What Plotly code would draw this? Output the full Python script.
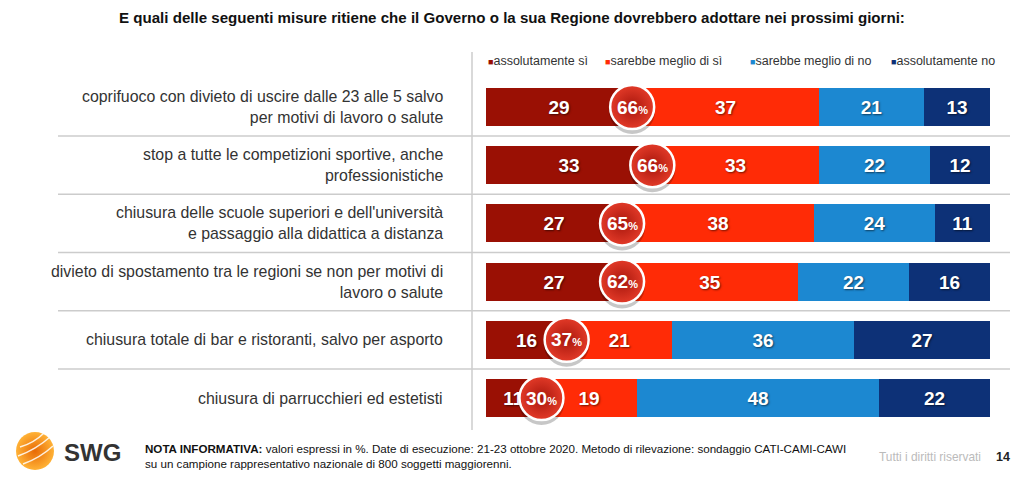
import plotly.graph_objects as go

W, H = 1024, 479

title = "E quali delle seguenti misure ritiene che il Governo o la sua Regione dovrebbero adottare nei prossimi giorni:"
categories = [
    "coprifuoco con divieto di uscire dalle 23 alle 5 salvo<br>per motivi di lavoro o salute",
    "stop a tutte le competizioni sportive, anche<br>professionistiche",
    "chiusura delle scuole superiori e dell'università<br>e passaggio alla didattica a distanza",
    "divieto di spostamento tra le regioni se non per motivi di<br>lavoro o salute",
    "chiusura totale di bar e ristoranti, salvo per asporto",
    "chiusura di parrucchieri ed estetisti",
]
series_names = ["assolutamente sì", "sarebbe meglio di sì", "sarebbe meglio di no", "assolutamente no"]
assolutamente_si = [29, 33, 27, 27, 16, 11]
meglio_si = [37, 33, 38, 35, 21, 19]
meglio_no = [21, 22, 24, 22, 36, 48]
assolutamente_no = [13, 12, 11, 16, 27, 22]
totale_si = [66, 66, 65, 62, 37, 30]
colors = ["#9A1004", "#FF2B06", "#1C88D1", "#0D3177"]

series_values = [assolutamente_si, meglio_si, meglio_no, assolutamente_no]
rows = list(range(len(categories)))

FONT = "Liberation Sans, Arial"

def px(x):
    return x / W

def py(y):
    return 1 - y / H

row_top_px, row_bot_px = 107, 398
step = (row_bot_px - row_top_px) / (len(rows) - 1)
y_top = 0 - row_top_px / step
y_bot = (len(rows) - 1) + (H - row_bot_px) / step

fig = go.Figure()

for name, vals, col in zip(series_names, series_values, colors):
    fig.add_trace(go.Bar(
        y=rows, x=vals, orientation="h", name=name,
        marker=dict(color=col, line=dict(width=0)),
        width=38 / step,
        text=vals, texttemplate="%{x}", textposition="inside",
        insidetextanchor="middle", textangle=0,
        textfont=dict(family=FONT, size=19, color="white",
                      weight="bold", shadow="1px 1px 2px rgba(0,0,0,0.55)"),
        showlegend=False, hoverinfo="skip",
    ))

# circle shadow
fig.add_trace(go.Scatter(
    x=assolutamente_si, y=[r + 4 / step for r in rows], mode="markers",
    marker=dict(size=46, color="rgba(0,0,0,0.22)", line=dict(width=0)),
    showlegend=False, hoverinfo="skip",
))
# circles
fig.add_trace(go.Scatter(
    x=assolutamente_si, y=rows, mode="markers",
    marker=dict(size=44, color="#E33A28",
                gradient=dict(type="radial", color="#A8170D"),
                line=dict(color="white", width=2.5)),
    showlegend=False, hoverinfo="skip",
))

annotations = []
for r, xv, tv in zip(rows, assolutamente_si, totale_si):
    annotations.append(dict(
        x=xv, y=r, xref="x", yref="y", showarrow=False,
        text=f"<b>{tv}</b><span style='font-size:11px'><b>%</b></span>",
        font=dict(family=FONT, size=19, color="white"),
        xanchor="center", yanchor="middle",
    ))

# category labels
for r, cat in zip(rows, categories):
    annotations.append(dict(
        x=px(445), y=r, xref="paper", yref="y", showarrow=False,
        text=cat, align="right", xanchor="right", yanchor="middle",
        font=dict(family=FONT, size=15.9, color="#333333"),
    ))

# legend
legend_x = [486, 603, 748, 889]
for lx, name, col in zip(legend_x, series_names, colors):
    annotations.append(dict(
        x=px(lx), y=py(61), xref="paper", yref="paper", showarrow=False,
        text=f"<span style='color:{col};font-size:9px'>■</span>{name}",
        xanchor="left", yanchor="middle",
        font=dict(family=FONT, size=12.5, color="#333333"),
    ))

# title
annotations.append(dict(
    x=0.5, y=py(17), xref="paper", yref="paper", showarrow=False,
    text=f"<b>{title}</b>", xanchor="center", yanchor="middle",
    font=dict(family=FONT, size=15.1, color="#111111"),
))

# footer
annotations += [
    dict(x=px(62), y=py(452), xref="paper", yref="paper", showarrow=False,
         text="<b>SWG</b>", xanchor="left", yanchor="middle",
         font=dict(family=FONT, size=24, color="#333333")),
    dict(x=px(143), y=py(456), xref="paper", yref="paper", showarrow=False,
         text="<b>NOTA INFORMATIVA:</b> valori espressi in %. Date di esecuzione: 21-23 ottobre 2020. Metodo di rilevazione: sondaggio CATI-CAMI-CAWI<br>su un campione rappresentativo nazionale di 800 soggetti maggiorenni.",
         xanchor="left", yanchor="middle", align="left",
         font=dict(family=FONT, size=11.6, color="#111111")),
    dict(x=px(983), y=py(457), xref="paper", yref="paper", showarrow=False,
         text="Tutti i diritti riservati", xanchor="right", yanchor="middle",
         font=dict(family=FONT, size=11.9, color="#BBBBBB")),
    dict(x=px(1003), y=py(457), xref="paper", yref="paper", showarrow=False,
         text="<b>14</b>", xanchor="center", yanchor="middle",
         font=dict(family=FONT, size=12.5, color="#222222")),
]

shapes = []
for r in rows[:-1]:
    shapes.append(dict(type="line", xref="paper", yref="y",
                       x0=px(58), x1=px(1010), y0=r + 0.5, y1=r + 0.5,
                       line=dict(color="#CCCCCC", width=1.5), layer="below"))
shapes.append(dict(type="line", xref="paper", yref="paper",
                   x0=px(472), x1=px(472), y0=py(52), y1=py(430),
                   line=dict(color="#CCCCCC", width=1.5), layer="below"))
# logo stripes (white arcs across the orange sphere)
for (a, b, c, d) in [(20, 447, 44, 433), (18, 456, 50, 437), (23, 464, 53, 446)]:
    shapes.append(dict(type="path", xref="paper", yref="paper",
                       path=f"M {px(a)},{py(b)} Q {px((a + c) / 2 + 2)},{py((b + d) / 2 + 3)} {px(c)},{py(d)}",
                       line=dict(color="rgba(255,255,255,0.85)", width=1.5), layer="above"))

fig.add_trace(go.Scatter(
    x=[35], y=[0], mode="markers", xaxis="x2", yaxis="y2",
    marker=dict(size=38, color="#FFB236", gradient=dict(type="radial", color="#E86A05"),
                line=dict(width=0)),
    showlegend=False, hoverinfo="skip",
))

fig.update_layout(
    width=W, height=H,
    margin=dict(l=0, r=0, t=0, b=0),
    paper_bgcolor="white", plot_bgcolor="rgba(0,0,0,0)",
    barmode="stack", bargap=0,
    xaxis=dict(domain=[px(486), px(990)], range=[0, 100], visible=False, fixedrange=True),
    yaxis=dict(domain=[0, 1], range=[y_bot, y_top], visible=False, fixedrange=True),
    xaxis2=dict(domain=[0, 1], range=[0, W], visible=False, anchor="y2"),
    yaxis2=dict(domain=[py(451) - 0.05, py(451) + 0.05], range=[-1, 1], visible=False, anchor="x2"),
    annotations=annotations, shapes=shapes,
    showlegend=False,
)

fig.write_html("out.html", post_script="document.body.style.margin='0';document.body.style.overflow='hidden';",
               config={"displayModeBar": False})
